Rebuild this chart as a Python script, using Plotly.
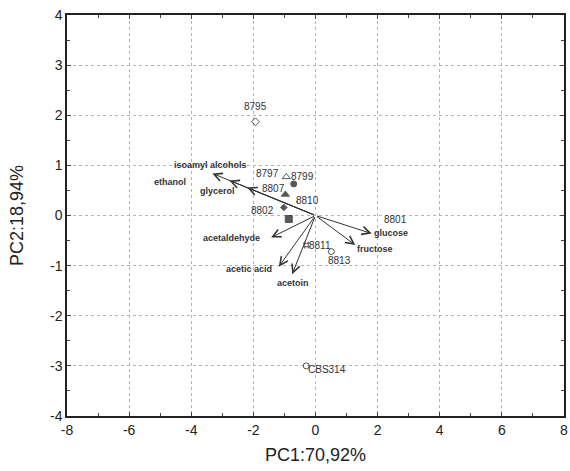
import plotly.graph_objects as go

# ---- data ----
sample_names = ["8795", "8797", "8799", "8807", "8802", "", "8810", "8811", "8813", "CBS314"]
sample_pc1 = [-1.93, -0.94, -0.70, -0.97, -1.02, -0.86, -0.59, -0.29, 0.51, -0.30]
sample_pc2 = [1.87, 0.77, 0.63, 0.42, 0.16, -0.07, 0.27, -0.59, -0.72, -3.00]
sample_symbols = ["diamond-open", "triangle-up-open", "circle", "triangle-up", "diamond",
                  "square", "cross-thin", "hash", "circle-open", "circle-open"]
sample_sizes = [6, 7, 6, 7, 5, 7, 1, 7, 6, 6]

label_names = ["8795", "8797", "8799", "8807", "8802", "8810", "8811", "8813", "8801", "CBS314"]
label_pc1 = [-1.94, -1.55, -0.43, -1.34, -1.71, -0.27, 0.14, 0.78, 2.58, 0.37]
label_pc2 = [2.17, 0.83, 0.77, 0.53, 0.10, 0.30, -0.59, -0.89, -0.08, -3.07]

var_names = ["isoamyl alcohols", "ethanol", "glycerol", "acetaldehyde", "acetic acid",
             "acetoin", "glucose", "fructose"]
var_pc1 = [-3.32, -2.77, -2.20, -1.43, -1.18, -0.75, 1.81, 1.28]
var_pc2 = [0.84, 0.70, 0.56, -0.44, -1.02, -1.17, -0.36, -0.59]
var_label_pc1 = [-3.37, -4.68, -3.16, -2.70, -2.13, -0.73, 2.43, 1.90]
var_label_pc2 = [1.01, 0.66, 0.48, -0.44, -1.07, -1.35, -0.34, -0.67]

x_ticks = [-8, -6, -4, -2, 0, 2, 4, 6, 8]
y_ticks = [-4, -3, -2, -1, 0, 1, 2, 3, 4]

fig = go.Figure()

fig.add_trace(go.Scatter(
    x=sample_pc1, y=sample_pc2, mode="markers",
    marker=dict(symbol=sample_symbols, size=sample_sizes, color="#111111",
                line=dict(color="#111111", width=1)),
    showlegend=False, hoverinfo="skip"))

annotations = []
for name, x, y in zip(var_names, var_pc1, var_pc2):
    annotations.append(dict(
        x=x, y=y, ax=0, ay=0, xref="x", yref="y", axref="x", ayref="y",
        text="", showarrow=True, arrowhead=5, arrowsize=1.6, arrowwidth=1,
        arrowcolor="#333333", standoff=0, startstandoff=0))
for name, x, y in zip(var_names, var_label_pc1, var_label_pc2):
    annotations.append(dict(
        x=x, y=y, xref="x", yref="y", text="<b>" + name + "</b>", showarrow=False,
        font=dict(family="Liberation Sans, Arial", size=9, color="#333333")))
for name, x, y in zip(label_names, label_pc1, label_pc2):
    annotations.append(dict(
        x=x, y=y, xref="x", yref="y", text=name, showarrow=False,
        font=dict(family="Liberation Sans, Arial", size=10, color="#333333")))

grid = dict(showgrid=True, gridcolor="#b4b4b4", griddash="dot", gridwidth=1,
            zeroline=False, showline=True, linecolor="#222222", linewidth=1.5,
            mirror="allticks", ticks="inside", ticklen=4, tickcolor="#444444",
            ticklabeloverflow="allow",
            tickfont=dict(family="Liberation Sans, Arial", size=14, color="#222222"))

fig.update_layout(
    width=570, height=471,
    margin=dict(l=67, r=6, t=15, b=55),
    paper_bgcolor="white", plot_bgcolor="white",
    font=dict(family="Liberation Sans, Arial", color="#222222"),
    annotations=annotations,
    xaxis=dict(range=[-8, 8], tickvals=x_ticks, ticktext=[str(v) for v in x_ticks],
               title=dict(text="PC1:70,92%", font=dict(size=18), standoff=12),
               minor=dict(dtick=1, ticks="inside", ticklen=3, tickcolor="#444444",
                          showgrid=False),
               automargin=False,
               **grid),
    yaxis=dict(range=[-4, 4], tickvals=y_ticks, ticktext=[str(v) for v in y_ticks],
               title=dict(text="PC2:18,94%", font=dict(size=18), standoff=22),
               minor=dict(dtick=0.5, ticks="inside", ticklen=3, tickcolor="#444444",
                          showgrid=False),
               automargin=False,
               **grid),
)

fig.write_html("out.html", config={"displayModeBar": False},
               post_script="document.body.style.margin='0';")
